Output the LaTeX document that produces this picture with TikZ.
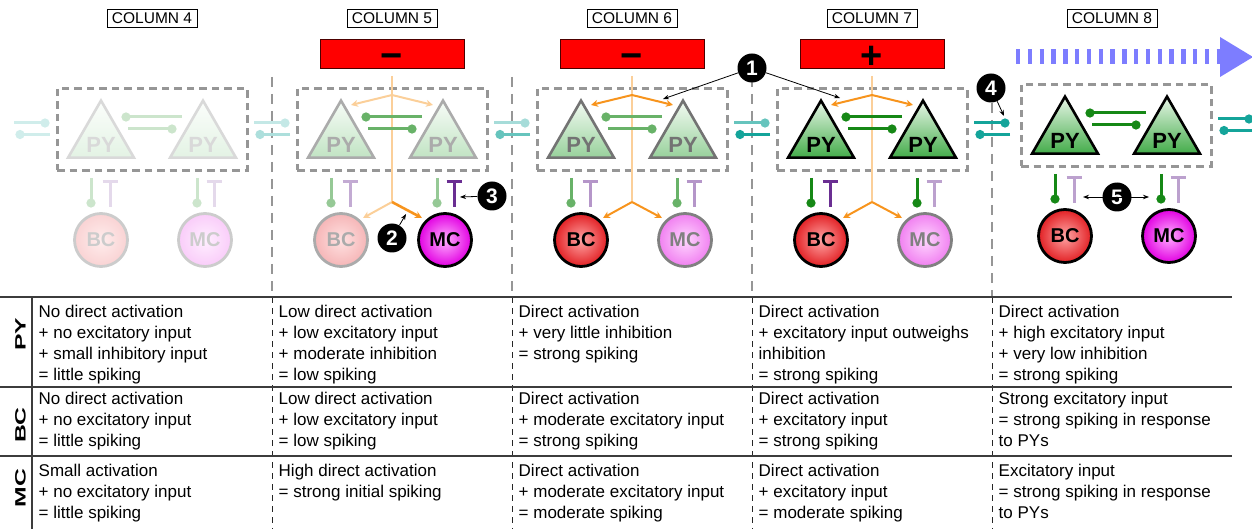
\documentclass[tikz,border=0pt]{standalone}
\usepackage{fontspec}
\usepackage{graphicx}
\setmainfont{Liberation Sans}
\usetikzlibrary{shapes.geometric,arrows.meta}

\definecolor{pyTop}{RGB}{232,246,232}
\definecolor{pyBot}{RGB}{68,172,74}
\definecolor{bcIn}{RGB}{255,165,165}
\definecolor{bcOut}{RGB}{226,32,36}
\definecolor{mcIn}{RGB}{255,175,255}
\definecolor{mcOut}{RGB}{226,0,226}
\definecolor{excG}{RGB}{22,136,22}
\definecolor{inhP}{RGB}{106,46,146}
\definecolor{lateral}{RGB}{20,164,154}
\definecolor{drive}{RGB}{247,148,29}
\definecolor{barRed}{RGB}{255,0,0}
\definecolor{wave}{RGB}{125,125,255}
\definecolor{frameGrey}{RGB}{150,150,150}
\definecolor{ruleC}{RGB}{60,60,60}

\tikzset{
  pycell/.style={regular polygon, regular polygon sides=3, minimum size=76pt,
    inner sep=0pt, line width=2.6pt, line join=miter, draw=black!#1!white,
    top color=pyTop!#1!white, bottom color=pyBot!#1!white,
    label={[text=black!#1!white, font=\bfseries\fontsize{22}{22}\selectfont,
            yshift=-6.4pt, inner sep=0pt]center:PY}},
  cellcirc/.style 2 args={circle, minimum size=53pt, inner sep=0pt,
    line width=2.8pt, draw=black!#1!white,
    inner color=#2In!#1!white, outer color=#2Out!#1!white,
    text=black!#1!white, font=\bfseries\fontsize{20}{20}\selectfont},
  pybox/.style={draw=frameGrey, line width=3pt, dash pattern=on 7.5pt off 5pt,
    minimum width=190pt, minimum height=82pt, inner sep=0pt},
  exc/.style={draw=excG!#1!white, line width=3pt, -{Circle[length=9pt,width=9pt]}},
  lat/.style={draw=lateral!#1!white, line width=3pt, -{Circle[length=9pt,width=9pt]}},
  inh/.style={draw=inhP!#1!white, line width=3pt, -{Bar[width=15pt]}},
  trunk/.style={draw=drive!#1!white, line width=2pt},
  drv/.style={draw=drive!#1!white, line width=2pt, -{Stealth[length=7pt,width=7pt]}},
  collabel/.style={draw=black, line width=1pt, minimum width=90pt, minimum height=18pt,
    inner sep=0pt, font=\fontsize{15.5}{15.5}\selectfont},
  inbar/.style={fill=barRed, draw=black!70!red, line width=0.8pt,
    minimum width=144pt, minimum height=29pt, inner sep=0pt},
  sign/.style={inner sep=0pt, font=\bfseries\fontsize{38}{38}\selectfont},
  badge/.style={circle, fill=black, text=white, minimum size=29pt, inner sep=0pt,
    font=\bfseries\fontsize{21}{21}\selectfont},
  ptr/.style={draw=black, line width=0.8pt, -{Stealth[length=6pt,width=4.5pt]}},
  ptrs/.style={draw=black, line width=0.8pt, {Stealth[length=6pt,width=4.5pt]}-{Stealth[length=6pt,width=4.5pt]}},
  sepU/.style={draw=frameGrey, line width=1.6pt, dash pattern=on 10pt off 7pt},
  sepT/.style={draw=black!85, line width=1pt, dash pattern=on 6pt off 5pt},
  rule/.style={draw=ruleC, line width=1.6pt},
  tcell/.style={anchor=north west, inner sep=0pt, align=left,
    font=\fontsize{17}{21}\selectfont, execute at begin node={\rule{0pt}{12.5pt}}},
  rowlab/.style={rotate=90, inner sep=0pt, font=\bfseries\fontsize{15}{15}\selectfont},
  wavearrow/.style={draw=wave, line width=15pt, dash pattern=on 4.3pt off 7.5pt},
}

% pair of lateral projections crossing a column border
% #1 name, #2 border x, #3 y upper, #4 y lower, #5 level upper, #6 level lower
\newcommand\lateralpair[6]{%
  \coordinate (lu#1s) at (#2-18,#3); \coordinate (lu#1e) at (#2+17.5,#3);
  \coordinate (ll#1s) at (#2+18,#4); \coordinate (ll#1e) at (#2-16.5,#4);
  \draw[lat=#5] (lu#1s) -- (lu#1e);
  \draw[lat=#6] (ll#1s) -- (ll#1e);}

% stimulus bar with its branching input
% #1 id, #2 sign, #3 sign shift, #4 trunk, #5 to PYs, #6 to BC, #7 to MC, #8 width to MC
\newcommand\drivetree[8]{%
  \node[inbar] (bar#1) at (0,54) {};
  \node[sign, yshift=#3] (sign#1) at (bar#1.center) {#2};
  \coordinate (tTop#1) at (0,76); \coordinate (tUp#1) at (0,95);
  \coordinate (tLow#1) at (0,202);
  \coordinate (hPL#1) at (-41,105); \coordinate (hPR#1) at (41,105);
  \coordinate (hBC#1) at (-29,218); \coordinate (hMC#1) at (30,218);
  \draw[trunk=#4] (tTop#1) -- (tLow#1);
  \draw[drv=#5] (tUp#1) -- (hPL#1);
  \draw[drv=#5] (tUp#1) -- (hPR#1);
  \draw[drv=#6] (tLow#1) -- (hBC#1);
  \draw[drv=#7, line width=#8] (tLow#1) -- (hMC#1);}

% one column: two PYs, BC, MC and their synapses
% #1 id, #2 PY, #3 BC, #4 MC, #5 PY->inter, #6 BC->PY, #7 MC->PY, #8 PY<->PY
\newcommand\drawcol[8]{%
  \coordinate (lkA#1) at (30,117); \coordinate (lkB#1) at (-30.5,117);
  \coordinate (lkC#1) at (-24,129); \coordinate (lkD#1) at (24.5,129);
  \draw[exc=#8] (lkA#1) -- (lkB#1);
  \draw[exc=#8] (lkC#1) -- (lkD#1);
  \node[pycell=#2] (pyL#1) at (-51,138.6) {};
  \node[pycell=#2] (pyR#1) at (51,138.6) {};
  \node[cellcirc={#3}{bc}] (bc#1) at (-51,240) {BC};
  \node[cellcirc={#4}{mc}] (mc#1) at (53,240) {MC};
  \coordinate (sEL#1) at (-61,178); \coordinate (eEL#1) at (-61,207.5);
  \coordinate (sER#1) at (45,178);  \coordinate (eER#1) at (45,207.5);
  \coordinate (sIL#1) at (-42,207); \coordinate (eIL#1) at (-42,180);
  \coordinate (sIR#1) at (62,207);  \coordinate (eIR#1) at (62,180);
  \draw[exc=#5] (sEL#1) -- (eEL#1);
  \draw[exc=#5] (sER#1) -- (eER#1);
  \draw[inh=#6] (sIL#1) -- (eIL#1);
  \draw[inh=#7] (sIR#1) -- (eIR#1);}

\begin{document}
\begin{tikzpicture}[x=1pt,y=-1pt]
\useasboundingbox (0,0) rectangle (1252,529);

% column separators
\foreach \sx/\sy [count=\k] in {272/77,512/77,752/77,992/103} {
  \coordinate (sepTop\k) at (\sx,\sy);
  \coordinate (sepMid\k) at (\sx,297);
  \coordinate (sepBot\k) at (\sx,529);
  \draw[sepU] (sepTop\k) -- (sepMid\k);
  \draw[sepT] (sepMid\k) -- (sepBot\k);
}

% column titles
\foreach \n/\cx in {4/152,5/392,6/632,7/872,8/1112}
  \node[collabel] (lab\n) at (\cx,18.5) {COLUMN \n};

% travelling wave
\coordinate (waveA) at (1016,56.5);
\coordinate (waveB) at (1220,56.5);
\draw[wavearrow] (waveA) -- (waveB);
\fill[wave] (1220,37) -- (1253,57) -- (1220,77) -- cycle;

% lateral projections between columns
\lateralpair{a}{32}{123}{134.5}{20}{20}
\lateralpair{b}{272}{123}{134.5}{25}{35}
\lateralpair{c}{512}{123}{134.5}{38}{65}
\lateralpair{d}{752}{123}{134.5}{65}{100}
\lateralpair{e}{992}{123}{134.5}{100}{100}
\lateralpair{f}{1236}{119}{130.5}{100}{100}

% columns
\begin{scope}[shift={(152,0)}]
  \node[pybox] (frame4) at (0,129.5) {};
  \drawcol{4}{15}{20}{20}{22}{18}{18}{22}
\end{scope}
\begin{scope}[shift={(392,0)}]
  \node[pybox] (frame5) at (0,129.5) {};
  \drivetree{5}{−}{-7.5pt}{45}{45}{45}{100}{2.6pt}
  \drawcol{5}{33}{33}{100}{45}{40}{100}{65}
\end{scope}
\begin{scope}[shift={(632,0)}]
  \node[pybox] (frame6) at (0,129.5) {};
  \drivetree{6}{−}{-7.5pt}{45}{100}{100}{100}{2pt}
  \drawcol{6}{55}{100}{50}{65}{50}{50}{65}
\end{scope}
\begin{scope}[shift={(872,0)}]
  \node[pybox] (frame7) at (0,129.5) {};
  \drivetree{7}{+}{-3.8pt}{45}{100}{100}{100}{2pt}
  \drawcol{7}{100}{100}{50}{100}{100}{45}{100}
\end{scope}
\begin{scope}[shift={(1116,-4)}]
  \node[pybox] (frame8) at (0,129.5) {};
  \drawcol{8}{100}{100}{100}{100}{45}{45}{100}
\end{scope}

% numbered call-outs
\node[badge] (b1) at (752,68) {1};
\coordinate (p1a) at (663,99); \coordinate (p1b) at (840,98);
\draw[ptr] (b1) -- (p1a);
\draw[ptr] (b1) -- (p1b);
\node[badge] (b2) at (392,238) {2};
\coordinate (p2) at (406,214);
\draw[ptr] (b2) -- (p2);
\node[badge] (b3) at (492,196) {3};
\coordinate (p3) at (460,197);
\draw[ptr] (b3) -- (p3);
\node[badge] (b4) at (991,88) {4};
\coordinate (p4) at (1004,116);
\draw[ptr] (b4) -- (p4);
\node[badge] (b5) at (1117,197) {5};
\coordinate (p5a) at (1083,197); \coordinate (p5b) at (1149,197);
\draw[ptrs] (p5a) -- (p5b);

% table rules
\coordinate (r1a) at (0,297);  \coordinate (r1b) at (1232,297);
\coordinate (r2a) at (0,387);  \coordinate (r2b) at (1232,387);
\coordinate (r3a) at (0,456);  \coordinate (r3b) at (1232,456);
\coordinate (vA) at (32,297);  \coordinate (vB) at (32,529);
\draw[rule] (r1a) -- (r1b);
\draw[rule] (r2a) -- (r2b);
\draw[rule] (r3a) -- (r3b);
\draw[rule] (vA) -- (vB);

% row headings
\node[rowlab] (rowPY) at (20.5,334) {\scalebox{1.65}[1]{PY}};
\node[rowlab] (rowBC) at (20.5,425) {\scalebox{1.65}[1]{BC}};
\node[rowlab] (rowMC) at (20.5,488) {\scalebox{1.65}[1]{MC}};

% table text: column 4
\node[tcell] (tPY4) at (38.5,304.5) {No direct activation\\+ no excitatory input\\+ small inhibitory input\\= little spiking};
\node[tcell] (tBC4) at (38.5,391.5) {No direct activation\\+ no excitatory input\\= little spiking};
\node[tcell] (tMC4) at (38.5,463.5) {Small activation\\+ no excitatory input\\= little spiking};
% column 5
\node[tcell] (tPY5) at (278.5,304.5) {Low direct activation\\+ low excitatory input\\+ moderate inhibition\\= low spiking};
\node[tcell] (tBC5) at (278.5,391.5) {Low direct activation\\+ low excitatory input\\= low spiking};
\node[tcell] (tMC5) at (278.5,463.5) {High direct activation\\= strong initial spiking};
% column 6
\node[tcell] (tPY6) at (518.5,304.5) {Direct activation\\+ very little inhibition\\= strong spiking};
\node[tcell] (tBC6) at (518.5,391.5) {Direct activation\\+ moderate excitatory input\\= strong spiking};
\node[tcell] (tMC6) at (518.5,463.5) {Direct activation\\+ moderate excitatory input\\= moderate spiking};
% column 7
\node[tcell] (tPY7) at (758.5,304.5) {Direct activation\\+ excitatory input outweighs\\inhibition\\= strong spiking};
\node[tcell] (tBC7) at (758.5,391.5) {Direct activation\\+ excitatory input\\= strong spiking};
\node[tcell] (tMC7) at (758.5,463.5) {Direct activation\\+ excitatory input\\= moderate spiking};
% column 8
\node[tcell] (tPY8) at (998.5,304.5) {Direct activation\\+ high excitatory input\\+ very low inhibition\\= strong spiking};
\node[tcell] (tBC8) at (998.5,391.5) {Strong excitatory input\\= strong spiking in response\\to PYs};
\node[tcell] (tMC8) at (998.5,463.5) {Excitatory input\\= strong spiking in response\\to PYs};
\end{tikzpicture}
\end{document}
